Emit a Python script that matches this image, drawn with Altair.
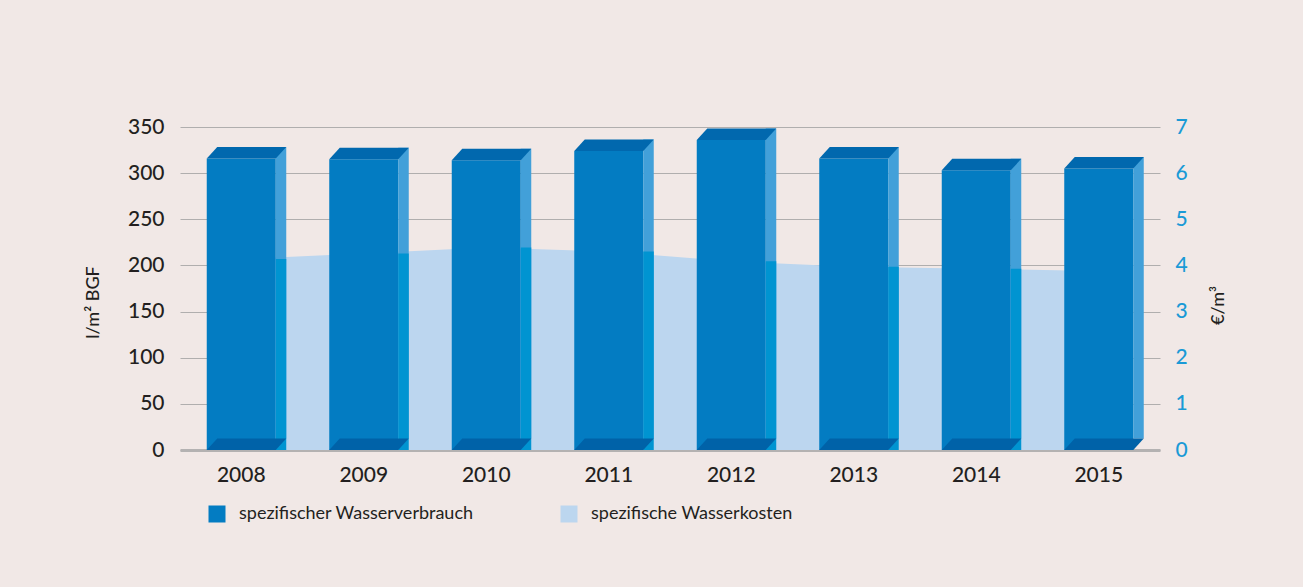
import altair as alt
import pandas as pd

years = ["2008", "2009", "2010", "2011", "2012", "2013", "2014", "2015"]
verbrauch = [316, 315, 314, 324, 336, 316, 303, 305]          # l/m² BGF
kosten = [4.14, 4.26, 4.39, 4.30, 4.09, 3.97, 3.93, 3.88]      # €/m³
series = ["spezifischer Wasserverbrauch", "spezifische Wasserkosten"]
left_ticks = [0, 50, 100, 150, 200, 250, 300, 350]
right_ticks = [0, 1, 2, 3, 4, 5, 6, 7]

FONT = "Lato"
DARK = "#231f20"
BLUE_TXT = "#1a9ad6"
BG = "#f1e8e6"
FRONT = "#037cc2"
TOP = "#0168ae"
BOTTOM = "#0062a8"
SIDE = "#42a0d9"
SIDE_DARK = "#0094d1"
AREA = "#bcd6ef"

df_bars = pd.DataFrame({"year": years, "value": verbrauch, "series": series[0]})
df_area = pd.DataFrame({"year": years, "cost": kosten, "series": series[1]})

x_enc = alt.X(
    "year:N", sort=years,
    scale=alt.Scale(type="band", paddingInner=0, paddingOuter=0),
    axis=alt.Axis(title=None, labelAngle=0, ticks=False, tickSize=0, labelPadding=14,
                  labelFont=FONT, labelFontSize=21, labelFontWeight=500, labelColor=DARK,
                  domainColor="#b4b2b2", domainWidth=3, grid=False),
)

left_axis = alt.Axis(values=left_ticks, orient="left", title="l/m² BGF", grid=True,
                     gridColor="#b0aeae", gridWidth=1, domain=False, ticks=False, tickSize=0,
                     labelPadding=16, labelFont=FONT, labelFontSize=21, labelFontWeight=500,
                     labelColor=DARK, titleFont=FONT, titleFontSize=18, titleFontWeight=500,
                     titleColor=DARK, titleAngle=-90, titleX=-87, titleY=175,
                     titleAlign="center", titleBaseline="middle")
left_scale = alt.Scale(domain=[0, 350], nice=False, zero=True)

color_enc = alt.Color(
    "series:N",
    scale=alt.Scale(domain=series, range=[FRONT, AREA]),
    legend=alt.Legend(title=None, orient="none", legendX=28, legendY=378,
                      direction="horizontal", symbolType="square", symbolSize=289,
                      symbolStrokeWidth=0, symbolOpacity=1, labelFont=FONT,
                      labelFontSize=18, labelColor=DARK, labelOffset=13,
                      columnPadding=86, padding=0, labelLimit=400),
)

front = alt.Chart(df_bars).mark_bar(width=69, opacity=1).encode(
    x=x_enc, y=alt.Y("value:Q", scale=left_scale, axis=left_axis), color=color_enc
)

side = alt.Chart(df_bars).mark_bar(
    width=10.5, xOffset=39.75, yOffset=-11.5, y2Offset=-11.5, color=SIDE, opacity=1
).encode(x=x_enc, y=alt.Y("value:Q", scale=left_scale, axis=left_axis))

side_dark = alt.Chart(df_area).transform_filter(
    alt.datum.year != years[-1]
).transform_calculate(kv="datum.cost * 50").mark_bar(
    width=10.5, xOffset=39.75, y2Offset=-11.5, color=SIDE_DARK, opacity=1
).encode(x=x_enc, y=alt.Y("kv:Q", scale=left_scale, axis=left_axis))

face_path = "M-0.8625,0L0.8625,0L1.125,-0.2875L-0.6,-0.2875Z"

top = alt.Chart(df_bars).mark_point(
    shape=face_path, size=6400, filled=True, color=TOP, opacity=1, strokeWidth=0
).encode(x=x_enc, y=alt.Y("value:Q", scale=left_scale, axis=left_axis))

bottom = alt.Chart(df_bars).transform_calculate(base="0").mark_point(
    shape=face_path, size=6400, filled=True, color=BOTTOM, opacity=1, strokeWidth=0
).encode(x=x_enc, y=alt.Y("base:Q", scale=left_scale, axis=left_axis))

bars = alt.layer(front, side, side_dark, top, bottom)

area = alt.Chart(df_area).mark_area(opacity=1, interpolate="linear").encode(
    x=x_enc,
    y=alt.Y("cost:Q", scale=alt.Scale(domain=[0, 7], nice=False, zero=True),
            axis=alt.Axis(values=right_ticks, orient="right", title="€/m³", grid=False,
                          domain=False, ticks=False, tickSize=0, labelPadding=15,
                          labelFont=FONT, labelFontSize=21, labelFontWeight=500,
                          labelColor=BLUE_TXT, titleFont=FONT, titleFontSize=18,
                          titleFontWeight=500, titleColor=DARK, titleAngle=-90,
                          titleX=58, titleY=178, titleAlign="center",
                          titleBaseline="middle")),
    color=color_enc,
)

chart = alt.layer(area, bars).resolve_scale(y="independent").properties(
    width=980, height=323,
    autosize=alt.AutoSizeParams(type="none"),
    padding={"left": 180, "top": 127, "right": 143, "bottom": 137},
    background=BG,
).configure_view(stroke=None)

chart.save("out.html", embed_options={"renderer": "svg", "actions": False})
